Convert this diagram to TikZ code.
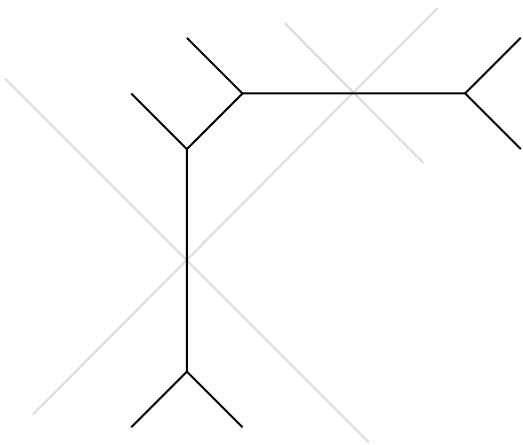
\documentclass[tikz,border=0pt]{standalone}
\usepackage{tikz}

\begin{document}
\begin{tikzpicture}[x=1cm,y=1cm,
  curve/.style={line width=1pt,black,line join=miter},
  tline/.style={line width=1pt,black!14}]
\useasboundingbox (-3.36,-3.31) rectangle (6.04,4.68);
% ---- tropical lines ----
\coordinate (la1) at (-3.27,3.27);
\coordinate (la2) at (3.27,-3.27);
\coordinate (lb1) at (-2.77,-2.77);
\coordinate (lb2) at (4.5,4.53);
\coordinate (lc1) at (1.76,4.26);
\coordinate (lc2) at (4.25,1.75);
\draw[tline] (la1) -- (la2);
\draw[tline] (lb1) -- (lb2);
\draw[tline] (lc1) -- (lc2);
% ---- the curve ----
\coordinate (vlow) at (0,-2);
\coordinate (vmid) at (0,2);
\coordinate (vtop) at (1,3);
\coordinate (vright) at (5,3);
\coordinate (elowl) at (-1,-3);
\coordinate (elowr) at (1,-3);
\coordinate (emid) at (-1,3);
\coordinate (etop) at (0,4);
\coordinate (erightu) at (6,4);
\coordinate (erightd) at (6,2);
\draw[curve] (vlow) -- (vmid) -- (vtop) -- (vright);
\draw[curve] (elowl) -- (vlow) -- (elowr);
\draw[curve] (emid) -- (vmid);
\draw[curve] (etop) -- (vtop);
\draw[curve] (erightu) -- (vright) -- (erightd);
\end{tikzpicture}
\end{document}
